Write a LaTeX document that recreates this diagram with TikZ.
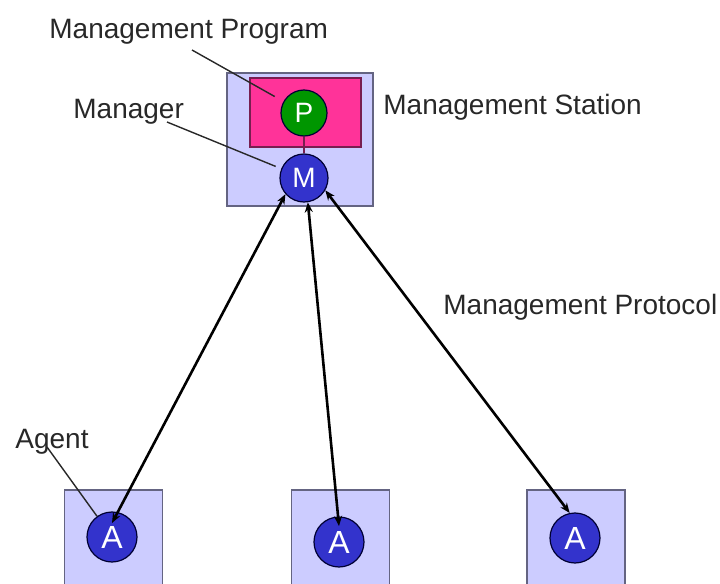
\documentclass[tikz,border=0pt]{standalone}
\usepackage{fontspec}
\setmainfont{Liberation Sans}
\usepackage{tikz}
\usetikzlibrary{arrows.meta}
\definecolor{hostfill}{RGB}{204,204,255}
\definecolor{hostdraw}{RGB}{100,100,130}
\definecolor{progfill}{RGB}{255,51,153}
\definecolor{progdraw}{RGB}{120,30,80}
\definecolor{pgreen}{RGB}{0,150,0}
\definecolor{ablue}{RGB}{51,51,204}
\definecolor{inkgray}{RGB}{40,40,40}

\begin{document}
\begin{tikzpicture}[
  x=0.5pt, y=-0.5pt,
  host/.style={draw=hostdraw, fill=hostfill, line width=0.6pt, inner sep=0pt},
  proc/.style={circle, draw=black!80!blue, line width=0.6pt, inner sep=0pt, minimum size=24pt, text=white, font=\fontsize{14}{14}\selectfont},
  lbl/.style={anchor=base west, inner sep=0pt, text=inkgray, font=\fontsize{14}{16}\selectfont},
  lead/.style={draw=inkgray, line width=0.7pt},
  proto/.style={{Stealth[length=5pt,width=4pt]}-{Stealth[length=5pt,width=4pt]}, line width=1.3pt}
]
  \clip (0,0) rectangle (720,584);
  % management station
  \node[host, minimum width=73pt, minimum height=66.5pt] (station) at (300,139.5) {};
  \node[draw=progdraw, fill=progfill, line width=0.6pt, inner sep=0pt, minimum width=55.5pt, minimum height=34.5pt] (prog) at (305.5,112.5) {};
  \node[proc, fill=pgreen, minimum size=23pt] (p) at (304,113) {P};
  \node[proc, fill=ablue] (m) at (304,178) {M};
  \draw[draw=progdraw, line width=0.6pt] (p) -- (m);
  % agents
  \foreach \i/\bx/\ax/\ay in {1/113.5/112/537, 2/340.5/339/542, 3/576/575/538} {
    \node[host, minimum width=49pt, minimum height=60pt] (host\i) at (\bx,550) {};
    \node[proc, fill=ablue, minimum size=25pt, font=\fontsize{16}{16}\selectfont] (a\i) at (\ax,\ay) {A};
  }
  % labels
  \node[lbl] (lprog) at (49,38) {Management Program};
  \node[lbl] (lman) at (73,118) {Manager};
  \node[lbl] (lstation) at (383,114) {Management Station};
  \node[lbl] (lproto) at (443,314) {Management Protocol};
  \node[lbl] (lagent) at (15,448) {Agent};
  % leaders
  \coordinate (cprog) at (192,50);
  \coordinate (cman) at (167,122);
  \coordinate (cagent) at (47,447);
  \draw[lead, shorten >=5pt] (cprog) -- (p);
  \draw[lead, shorten >=3pt] (cman) -- (m);
  \draw[lead] (cagent) -- (a1);
  % protocol
  \draw[proto] (m.221) -- ([yshift=7pt]a1.center);
  \draw[proto] (m.279) -- ([yshift=8pt]a2.center);
  \draw[proto] (m.330) -- (a3.102);
\end{tikzpicture}
\end{document}
